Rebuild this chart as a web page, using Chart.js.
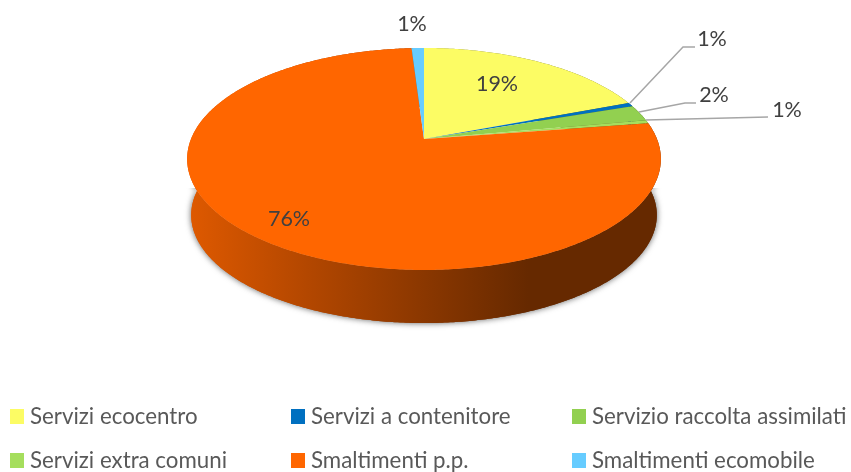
<!DOCTYPE html>
<html>
<head>
  <title>Servizi</title>
  <script src="https://cdn.jsdelivr.net/npm/chart.js"></script>
  <style>
    html, body { margin: 0; padding: 0; background: #fff; }
    #wrap { position: relative; width: 851px; height: 472px; overflow: hidden; }
    canvas { position: absolute; left: 0; top: 0; }
    .item { position: absolute; font: 22.3px Lato, sans-serif; color: #595959; line-height: 24px; white-space: nowrap; }
    .item i { position: absolute; left: -20px; top: 5px; width: 14px; height: 15px; }
  </style>
</head>
<body>
  <div id="wrap">
    <canvas id="pie" width="851" height="472"></canvas>
  </div>

  <script>
    // valori
    const categories = ['Servizi ecocentro', 'Servizi a contenitore', 'Servizio raccolta assimilati', 'Servizi extra comuni', 'Smaltimenti p.p.', 'Smaltimenti ecomobile'];
    const values = [19.2, 0.55, 2.35, 0.5, 76.4, 1];
    const colors = ['#FCFC64', '#0070C0', '#92D050', '#A5DE5D', '#FF6600', '#66CCFF'];

    // posizione delle etichette e linee guida
    const labelPos = [[497, 84], [712, 39], [714, 95], [787, 110], [289, 219], [412, 24]];
    const leaders = [null, [[630, 103], [683, 47], [695, 47]], [[639, 112], [685, 103], [696, 103]], [[646, 120], [768, 117]], null, null];

    // legenda: 3 colonne, 2 righe
    const legendX = [30, 311, 592];
    const legendY = [404, 448];

    // proiezione prospettica del disco (faccia superiore e base)
    const persp = 0.18;
    const topFace = { x: 424, y: 139, a: 233, s: 107.4 };
    const baseFace = { x: 424, y: 195.6, a: 229, s: 104.5 };

    function project(face, angle) {
      const u = Math.cos(angle), v = Math.sin(angle), w = 1 - persp * v;
      return [face.x + face.a * u / w, face.y + face.s * v / w];
    }

    function rimPoints(face, start, end) {
      const pts = [], n = Math.max(2, Math.ceil((end - start) / 0.01));
      for (let i = 0; i <= n; i++) pts.push(project(face, start + (end - start) * i / n));
      return pts;
    }

    function tracePath(ctx, pts) {
      pts.forEach((p, i) => i ? ctx.lineTo(p[0], p[1]) : ctx.moveTo(p[0], p[1]));
    }

    function shade(hex, k) {
      const n = parseInt(hex.slice(1), 16);
      return `rgb(${(n >> 16) * k},${((n >> 8) & 255) * k},${(n & 255) * k})`;
    }

    function fillWall(ctx, arc, color) {
      const grad = ctx.createLinearGradient(190, 0, 660, 0);
      [[0, 0.87], [0.25, 0.7], [0.5, 0.54], [0.72, 0.4], [1, 0.4]].forEach(s => grad.addColorStop(s[0], shade(color, s[1])));
      ctx.fillStyle = grad;
      ctx.beginPath();
      tracePath(ctx, rimPoints(topFace, arc.startAngle, arc.endAngle).concat(rimPoints(baseFace, arc.startAngle, arc.endAngle).reverse()));
      ctx.closePath();
      ctx.fill();
    }

    const pie3d = {
      id: 'pie3d',
      beforeDatasetsDraw(chart) {
        const ctx = chart.ctx, arcs = chart.getDatasetMeta(0).data;
        // ombra solo nella parte bassa della parete
        ctx.save();
        ctx.beginPath();
        ctx.rect(0, 188, 851, 284);
        ctx.clip();
        ctx.shadowColor = 'rgba(40,40,40,0.75)';
        ctx.shadowBlur = 6;
        arcs.forEach((arc, i) => fillWall(ctx, arc, colors[i]));
        ctx.restore();
        // parete laterale
        arcs.forEach((arc, i) => fillWall(ctx, arc, colors[i]));
        // faccia superiore
        arcs.forEach((arc, i) => {
          ctx.fillStyle = colors[i];
          ctx.beginPath();
          tracePath(ctx, [[topFace.x, topFace.y]].concat(rimPoints(topFace, arc.startAngle, arc.endAngle)));
          ctx.closePath();
          ctx.fill();
        });
        return false;
      },
      afterDraw(chart) {
        const ctx = chart.ctx;
        ctx.save();
        ctx.strokeStyle = '#A6A6A6';
        ctx.lineWidth = 1.5;
        leaders.forEach(l => {
          if (!l) return;
          ctx.beginPath();
          tracePath(ctx, l);
          ctx.stroke();
        });
        ctx.fillStyle = '#404040';
        ctx.font = '21.5px Lato, sans-serif';
        ctx.textAlign = 'center';
        ctx.textBaseline = 'middle';
        values.forEach((v, i) => ctx.fillText(Math.round(v) + '%', labelPos[i][0], labelPos[i][1]));
        ctx.restore();
      }
    };

    new Chart(document.getElementById('pie'), {
      type: 'pie',
      data: {
        labels: categories,
        datasets: [{ data: values, backgroundColor: colors, borderWidth: 0 }]
      },
      options: {
        responsive: false,
        animation: false,
        plugins: { legend: { display: false }, tooltip: { enabled: false } }
      },
      plugins: [pie3d]
    });

    // legenda in HTML
    const wrap = document.getElementById('wrap');
    categories.forEach((name, i) => {
      const el = document.createElement('div');
      el.className = 'item';
      el.style.left = legendX[i % 3] + 'px';
      el.style.top = legendY[Math.floor(i / 3)] + 'px';
      el.innerHTML = '<i style="background:' + colors[i] + '"></i>' + name;
      wrap.appendChild(el);
    });
  </script>
</body>
</html>
